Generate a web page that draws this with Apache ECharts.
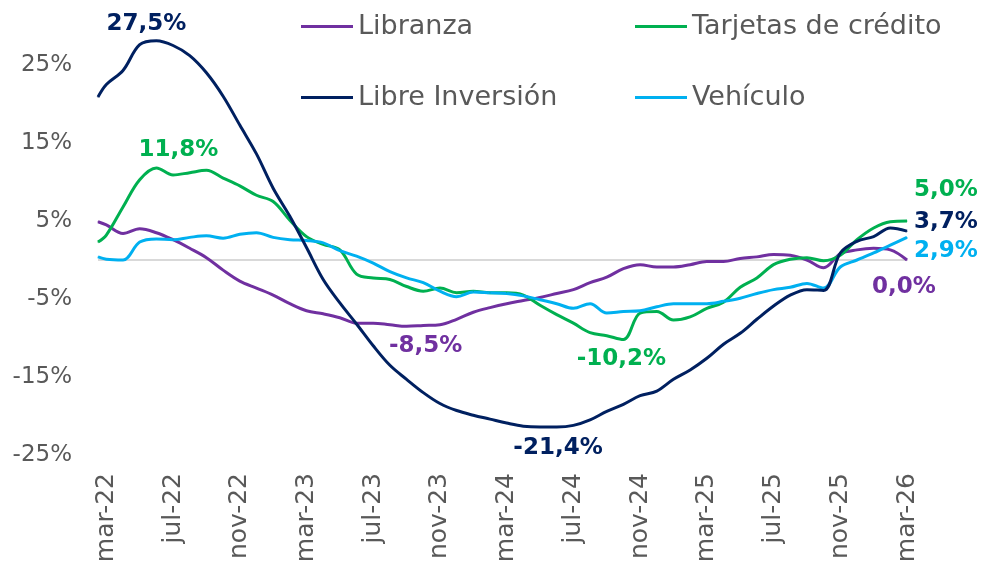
<!DOCTYPE html>
<html>
<head>
<meta charset="utf-8">
<script src="https://cdn.jsdelivr.net/npm/echarts@6/dist/echarts.min.js"></script>
<style>
html,body{margin:0;padding:0;background:#fff;}
#chart{width:984px;height:568px;}
</style>
</head>
<body>
<div id="chart"></div>
<script>
// Monthly series; first value is the mid-Feb-2022 start, then mar-22 ... mar-26
const tickLabels = ['mar-22','jul-22','nov-22','mar-23','jul-23','nov-23','mar-24','jul-24','nov-24','mar-25','jul-25','nov-25','mar-26'];
const seriesNames = ['Libranza','Tarjetas de crédito','Libre Inversión','Vehículo'];

const libranza = [4.9, 4.5, 3.4, 4.0, 3.5, 2.6, 1.5, 0.3, -1.3, -2.7, -3.6,
  -4.5, -5.6, -6.5, -6.9, -7.4, -8.1, -8.1, -8.3, -8.5, -8.4,
  -8.3, -7.6, -6.7, -6.1, -5.6, -5.2, -4.8, -4.3, -3.8, -2.9,
  -2.2, -1.1, -0.6, -0.9, -0.9, -0.6, -0.2, -0.2, 0.2, 0.4,
  0.7, 0.6, 0.0, -1.0, 0.8, 1.3, 1.5, 1.3, 0.0];

const tarjetas = [2.3, 3.2, 6.8, 10.3, 11.8, 10.9, 11.2, 11.5, 10.5, 9.5, 8.3,
  7.5, 5.1, 3.0, 2.0, 1.3, -1.8, -2.3, -2.5, -3.4, -4.0,
  -3.6, -4.2, -4.0, -4.2, -4.2, -4.5, -5.8, -7.0, -8.1, -9.3,
  -9.7, -10.2, -6.8, -6.6, -7.7, -7.3, -6.2, -5.4, -3.5, -2.3,
  -0.6, 0.1, 0.3, -0.1, 0.6, 2.6, 4.1, 4.9, 5.0];

const libreInversion = [20.9, 22.5, 24.3, 27.6, 28.1, 27.5, 26.2, 24.0, 21.0, 17.3, 13.6,
  9.2, 5.6, 1.6, -2.5, -5.5, -8.2, -11.0, -13.5, -15.3, -17.0,
  -18.4, -19.3, -19.9, -20.4, -20.9, -21.3, -21.4, -21.4, -21.2, -20.5,
  -19.4, -18.5, -17.4, -16.8, -15.3, -14.1, -12.6, -10.8, -9.4, -7.6,
  -5.9, -4.5, -3.8, -3.9, 0.9, 2.4, 3.0, 4.1, 3.7];

const vehiculo = [0.4, 0.1, 0.0, 2.3, 2.7, 2.6, 2.9, 3.1, 2.8, 3.3, 3.5,
  2.9, 2.6, 2.5, 2.2, 1.2, 0.5, -0.4, -1.5, -2.3, -2.9,
  -4.0, -4.7, -4.1, -4.2, -4.3, -4.6, -5.1, -5.6, -6.2, -5.6,
  -6.8, -6.6, -6.5, -6.0, -5.6, -5.6, -5.6, -5.3, -4.9, -4.3,
  -3.8, -3.5, -3.0, -3.6, -0.9, 0.0, 0.9, 1.9, 2.9];

// Annotations: [series index, data index, text]
const annotations = [
  [2, 4, '27,5%'],
  [1, 4, '11,8%'],
  [0, 19, '-8,5%'],
  [1, 32, '-10,2%'],
  [2, 27, '-21,4%'],
  [1, 49, '5,0%'],
  [2, 49, '3,7%'],
  [3, 49, '2,9%'],
  [0, 49, '0,0%']
];
const annotationOffsets = [
  [-10, -17], [22, -18], [19, 20], [-2, 19], [18, 21],
  [39, -31], [39, -9], [39, 14], [-3, 27]
];

const colors = ['#7030A0', '#00B050', '#002060', '#00B0F0'];
const FONT = 'DejaVu Sans';
const GREY = '#595959';

// month offset from mar-22 (first point is half a month earlier)
const xPos = libranza.map((_, i) => (i === 0 ? -0.5 : i - 1));
const allValues = [libranza, tarjetas, libreInversion, vehiculo];

const series = allValues.map((vals, s) => {
  const data = vals.map((v, i) => [xPos[i], v]);
  return {
    name: seriesNames[s],
    type: 'line',
    smooth: 0.35,
    symbol: 'circle',
    symbolSize: 1,
    showSymbol: true,
    clip: false,
    z: s === 2 ? 4 : 3,
    lineStyle: { width: 3, color: colors[s] },
    itemStyle: { color: colors[s] },
    label: { show: false },
    emphasis: { disabled: true },
    data: data
  };
});

annotations.forEach((a, k) => {
  const [s, i, txt] = a;
  const d = series[s].data[i];
  series[s].data[i] = {
    value: d,
    label: {
      show: true,
      position: 'inside',
      offset: annotationOffsets[k],
      formatter: txt,
      fontFamily: FONT,
      fontWeight: 'bold',
      fontSize: 23,
      color: colors[s]
    }
  };
});

series[0].markLine = {
  silent: true,
  symbol: 'none',
  label: { show: false },
  lineStyle: { color: '#D9D9D9', width: 2, type: 'solid' },
  data: [{ yAxis: 0 }],
  z: 1
};

const legendCommon = {
  orient: 'vertical',
  top: 8,
  icon: 'rect',
  itemWidth: 52, itemHeight: 3, itemGap: 44,
  textStyle: { fontFamily: FONT, fontSize: 27, color: GREY },
  selectedMode: false
};

const chart = echarts.init(document.getElementById('chart'), null, { renderer: 'canvas' });
chart.setOption({
  animation: false,
  backgroundColor: '#ffffff',
  color: colors,
  grid: { left: 98, right: 77, top: 26, bottom: 113 },
  legend: [
    Object.assign({}, legendCommon, { left: 296, data: [seriesNames[0], seriesNames[2]] }),
    Object.assign({}, legendCommon, { left: 630, data: [seriesNames[1], seriesNames[3]] })
  ],
  xAxis: {
    type: 'value',
    min: -0.5,
    max: 48,
    axisLine: { show: false },
    axisTick: { show: false },
    splitLine: { show: false },
    axisLabel: {
      customValues: tickLabels.map((_, i) => i * 4),
      formatter: v => tickLabels[Math.round(v / 4)] || '',
      rotate: 90,
      margin: 18,
      fontFamily: FONT,
      fontSize: 25,
      color: GREY
    }
  },
  yAxis: {
    type: 'value',
    min: -25,
    max: 30,
    interval: 10,
    axisLine: { show: false },
    axisTick: { show: false },
    splitLine: { show: false },
    axisLabel: {
      showMaxLabel: false,
      formatter: v => (v > 26 ? '' : v + '%'),
      margin: 26,
      fontFamily: FONT,
      fontSize: 23,
      color: GREY
    }
  },
  series: series
});
</script>
</body>
</html>
